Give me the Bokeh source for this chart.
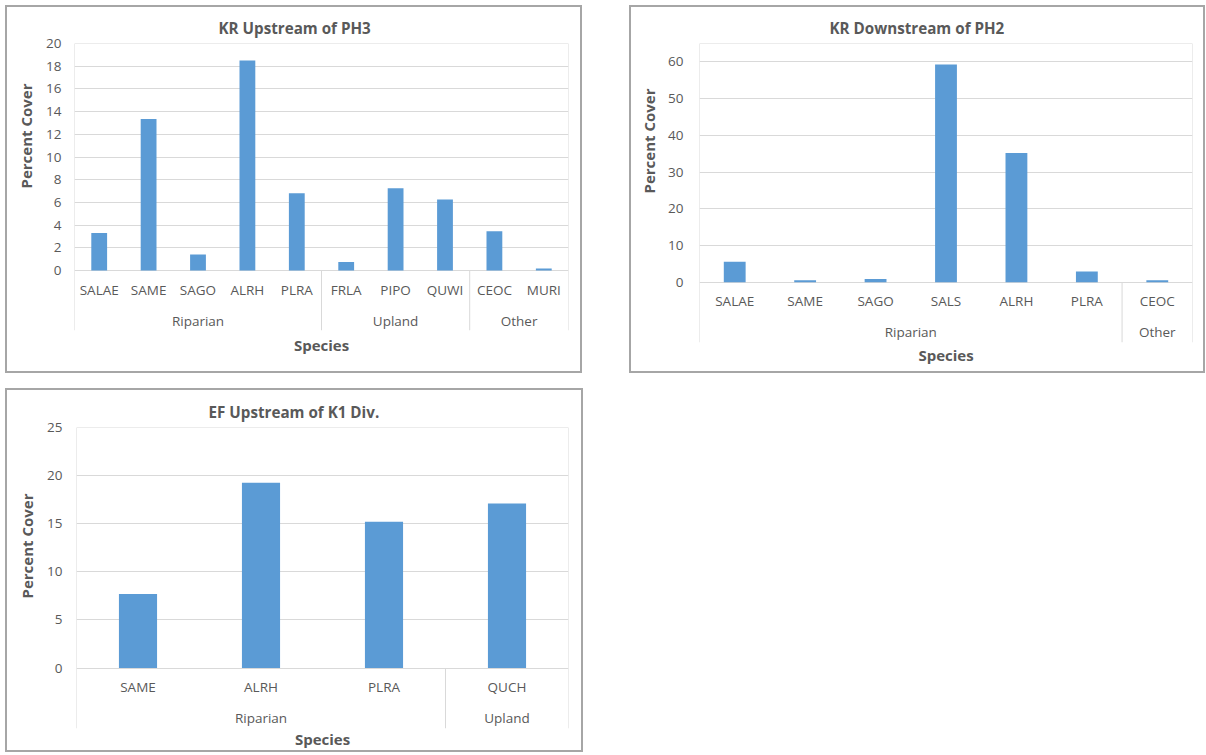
from bokeh.plotting import figure
from bokeh.models import FactorRange, Range1d, FixedTicker, Span, Title
from bokeh.layouts import row, column
from bokeh.embed import file_html
from bokeh.resources import INLINE

# ---------------- data ----------------
c1_title = "KR Upstream of PH3"
c1_species = ["SALAE", "SAME", "SAGO", "ALRH", "PLRA", "FRLA", "PIPO", "QUWI", "CEOC", "MURI"]
c1_groups = ["Riparian", "Riparian", "Riparian", "Riparian", "Riparian",
             "Upland", "Upland", "Upland", "Other", "Other"]
c1_values = [3.3, 13.35, 1.4, 18.5, 6.8, 0.75, 7.25, 6.25, 3.45, 0.18]
c1_yticks = [0, 2, 4, 6, 8, 10, 12, 14, 16, 18, 20]
c1_ymax = 20

c2_title = "KR Downstream of PH2"
c2_species = ["SALAE", "SAME", "SAGO", "SALS", "ALRH", "PLRA", "CEOC"]
c2_groups = ["Riparian", "Riparian", "Riparian", "Riparian", "Riparian", "Riparian", "Other"]
c2_values = [5.6, 0.55, 0.9, 59.3, 35.2, 2.9, 0.5]
c2_yticks = [0, 10, 20, 30, 40, 50, 60]
c2_ymax = 65

c3_title = "EF Upstream of K1 Div."
c3_species = ["SAME", "ALRH", "PLRA", "QUCH"]
c3_groups = ["Riparian", "Riparian", "Riparian", "Upland"]
c3_values = [7.7, 19.25, 15.2, 17.1]
c3_yticks = [0, 5, 10, 15, 20, 25]
c3_ymax = 25

x_title = "Species"
y_title = "Percent Cover"

# ---------------- style ----------------
BAR = "#5b9bd5"
TXT = "#595959"
GRID = "#d9d9d9"
FONT = "Open Sans"
TICK_SIZE = "13.5px"


def make_chart(title, species, groups, values, yticks, ymax,
               W, H, fl, fr, ft, fb, val_px, ylab_standoff,
               title_offset, ytitle_offset, ytitle_standoff, xtitle_standoff, bar_w):
    factors = list(zip(groups, species))
    frame_px = H - ft - fb
    axis_px = frame_px - val_px
    ystart = -ymax * axis_px / val_px
    xr = FactorRange(factors=factors, group_padding=0, factor_padding=0,
                     subgroup_padding=0, range_padding=0)
    p = figure(width=W, height=H, x_range=xr, y_range=Range1d(ystart, ymax),
               output_backend="svg", toolbar_location=None,
               min_border_left=fl, min_border_right=fr,
               min_border_top=ft, min_border_bottom=fb)
    p.background_fill_color = "white"
    p.border_fill_color = "white"
    p.outline_line_color = None
    p.styles = {"outline": "2px solid #a6a6a6", "outline-offset": "0px"}

    # title
    p.title.text = title
    p.title.align = "left"
    p.title.offset = title_offset
    p.title.text_font = FONT
    p.title.text_font_size = "15.2px"
    p.title.text_font_style = "bold"
    p.title.text_color = TXT
    p.title.standoff = 12

    # y axis
    yt = FixedTicker(ticks=yticks)
    p.yaxis.ticker = yt
    p.ygrid.ticker = yt
    p.yaxis.axis_line_color = None
    p.yaxis.major_tick_line_color = None
    p.yaxis.minor_tick_line_color = None
    p.yaxis.major_tick_out = 0
    p.yaxis.major_tick_in = 0
    p.yaxis.major_label_standoff = ylab_standoff
    p.yaxis.major_label_text_font = FONT
    p.yaxis.major_label_text_font_size = TICK_SIZE
    p.yaxis.major_label_text_color = TXT
    p.ygrid.grid_line_color = GRID
    p.xgrid.grid_line_color = None

    ytl = Title(text=y_title, align="right", offset=ytitle_offset,
                text_font=FONT, text_font_size="15px", text_font_style="bold",
                text_color=TXT, standoff=ytitle_standoff, vertical_align="middle")
    p.add_layout(ytl, "left")

    # x axis (category + group labels)
    xa = p.xaxis[0]
    xa.fixed_location = 0
    xa.axis_line_color = None
    xa.major_tick_line_color = None
    xa.minor_tick_line_color = None
    xa.major_tick_out = 0
    xa.major_tick_in = 0
    xa.separator_line_color = None
    xa.major_label_standoff = 10
    xa.major_label_text_font = FONT
    xa.major_label_text_font_size = TICK_SIZE
    xa.major_label_text_color = TXT
    xa.group_text_font = FONT
    xa.group_text_font_size = TICK_SIZE
    xa.group_text_font_style = "normal"
    xa.group_text_color = TXT

    xtl = Title(text=x_title, align="center", vertical_align="top",
                text_font=FONT, text_font_size="15px", text_font_style="bold",
                text_color=TXT, standoff=xtitle_standoff)
    p.add_layout(xtl, "below")

    # bars
    p.vbar(x=factors, top=values, bottom=0, width=bar_w, fill_color=BAR, line_color=None)

    # plot-area border lines and group separators
    n = len(species)
    p.add_layout(Span(location=0, dimension="height", line_color=GRID, line_width=1))
    p.add_layout(Span(location=n, dimension="height", line_color=GRID, line_width=1))
    p.add_layout(Span(location=ymax, dimension="width", line_color=GRID, line_width=1))
    bounds = [i for i in range(1, n) if groups[i] != groups[i - 1]]
    if bounds:
        p.segment(x0=bounds, y0=[ystart] * len(bounds), x1=bounds, y1=[0] * len(bounds),
                  line_color=GRID, line_width=1)
    return p


p1 = make_chart(c1_title, c1_species, c1_groups, c1_values, c1_yticks, c1_ymax,
                573, 364, 67, 12, 36, 41, 227, 13, 144, 40, 14, 8, 0.32)
p2 = make_chart(c2_title, c2_species, c2_groups, c2_values, c2_yticks, c2_ymax,
                572, 364, 68, 11, 36, 29, 238.7, 16, 130, 45, 12, 4, 0.31)
p3 = make_chart(c3_title, c3_species, c3_groups, c3_values, c3_yticks, c3_ymax,
                574, 360, 69, 13, 37, 22, 240.6, 14, 132, 66, 14, 0, 0.31)

layout = column(row(column(p1), column(p2), spacing=51), column(p3),
                spacing=19, margin=(7, 0, 0, 7))

open("out.html", "w").write(file_html(layout, INLINE))
